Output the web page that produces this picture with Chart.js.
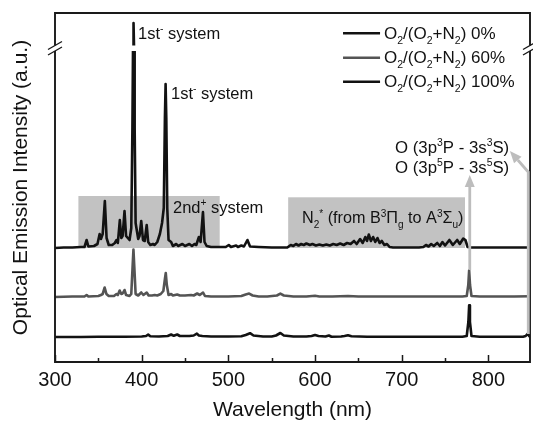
<!DOCTYPE html>
<html><head><meta charset="utf-8">
<script src="https://cdn.jsdelivr.net/npm/chart.js@4.4.1/dist/chart.umd.min.js"></script>
<style>html,body{margin:0;padding:0;background:#fff;}#wrap{width:533px;height:423px;}</style>
</head><body><div id="wrap"><canvas id="c" width="533" height="423"></canvas></div>
<script>
// ---- data (wavelength nm, relative intensity a.u.) ----
const seriesNames = ['O2/(O2+N2) 0%', 'O2/(O2+N2) 60%', 'O2/(O2+N2) 100%'];
const offsets = [114, 65, 25];
const xTickValues = [300, 400, 500, 600, 700, 800];
const trace0 = [[300,0],[310,0.5],[320,0.5],[330,1],[334,1],[336.5,8],[338.5,1.5],[345,2],[349,4],[351.5,14],[353,9],[355,14],[357.5,47],[359.5,10],[362,3],[366,3],[369,5],[371,8],[372.5,5],[374.8,28],[376.5,10],[378,12],[380.2,37],[382,12],[384,10],[386,8],[388,20],[389.3,120],[390,200],[390.6,225],[391.2,200],[391.9,120],[393,25],[396,9],[397.5,12],[399.5,27],[401.5,8],[403.5,7],[405.8,23],[407.5,6],[410,3],[413,4],[415,3],[418,6],[421,14],[423.5,25],[425.5,40],[426.8,130],[427.6,164],[428.4,130],[429.5,40],[431,8],[434,6],[436,2],[440,4],[442,2],[447,4],[450,2],[455,4],[458,2],[461,4],[463,3],[466,11],[468,6],[470.7,36],[472.5,6],[475,2],[480,1],[490,1],[497,1],[500.5,3],[503,1],[509,2.5],[511,1],[515,2.5],[518,1.5],[522,8],[525,1.5],[535,1],[550,0.5],[565,0.5],[568,0.5],[572,3],[575,2],[578,4],[581,2.5],[584,4],[587,3],[590,4.5],[594,3],[597,4],[601,2.5],[605,3.5],[609,2.5],[613,3.5],[617,2.5],[621,4],[625,3],[629,4.5],[633,3],[637,5],[641,4],[645,7],[648,4],[652,9],[655,5],[658,11],[660,7],[662,13.5],[664.5,7],[667,11],[669.5,6],[672,10],[674.5,5],[677,7],[680,3],[683,4],[686,1],[690,0.5],[700,0.5],[712,0.5],[720,0.5],[725,1],[728,3],[731,1.5],[734,4],[737,2],[741,5],[744,2],[747,6],[750,2.5],[755,8],[759,3],[764,8],[767,4],[771,9.5],[773.5,8],[776,1],[780,0.5],[790,0.5],[800,0.5],[820,0.5],[835,0.5],[848,0.5]];
const trace60 = [[300,0],[320,0.5],[334,0.5],[336.5,2],[338.5,0.5],[350,1],[353,2],[355,3],[357.3,9.5],[359.3,3],[362,1],[368,1],[371,3],[372.5,2],[374.6,6.5],[376.5,3],[378,3.5],[380.2,7],[382,2],[386,1],[388,3],[389.5,30],[390.5,47.5],[391.5,30],[393,3],[396,1.5],[399.5,4.5],[402,2],[405.8,4.5],[408,1.5],[412,1.5],[415,2],[418,1.5],[422,3],[425,6],[426.8,18],[427.8,24],[429,12],[431,2],[434,3],[436,1.5],[441,2.5],[444,1.5],[450,1.5],[457,2],[460,1.5],[464,3.5],[467,2],[470.8,4.5],[473,1],[480,0.5],[500,0.5],[515,1],[520,2.5],[524,3.4],[528,1.5],[535,0.5],[545,0.5],[556,1.5],[560,3.4],[564,1.5],[575,0.5],[590,0.5],[600,1.2],[605,0.5],[620,0.5],[638,1],[650,0.5],[700,0.5],[750,0.5],[770,0.5],[775,1],[776.8,12],[777.8,26.7],[778.8,12],[780.5,1],[790,0.5],[810,0.5],[830,0.5],[848,0.8]];
const trace100 = [[300,0],[330,0],[350,0.3],[380,0.3],[400,0.5],[405,1],[407.5,2.4],[410,0.8],[420,0.5],[430,1],[434,2.5],[437,1.2],[441,2.5],[444,1],[455,1],[460,1.5],[463.7,3.4],[466,1.5],[470,1],[480,0.5],[500,0.5],[515,0.8],[520,2],[525,3.8],[529,1.5],[540,0.5],[550,0.5],[555,1.5],[560,4],[564,1.5],[575,0.5],[590,0.5],[596,1],[600,2],[604,1],[612,0.5],[616,1.5],[619,0.3],[630,0.5],[634,1],[638,1.8],[642,0.8],[660,0.3],[700,0.3],[740,0.3],[770,0.3],[775,1],[776.9,15],[777.8,31.7],[778.7,15],[780.5,1],[790,0.3],[820,0.3],[840,0.3],[843,1],[845,3],[847,1],[848,0.5]];
const bandRegions = [[327, 490, 114, 166], [569, 773, 114, 164.7]]; // [x0,x1,y0,y1]
const arrowPaths = [[[778.5,92],[778.5,187]], [[846,28],[846,190],[824.8,211]]];

// ---- styles ----
const FAM = '"Liberation Sans", Arial, sans-serif';
const colors = ['#121212', '#545454', '#121212'];

function drawRich(ctx, x, y, segs, size){
  let cx = x;
  segs.forEach(([t,k])=>{
    const s = k ? size*0.62 : size;
    ctx.font = s + 'px ' + FAM;
    const dy = k===1 ? size*0.28 : (k===2 ? -size*0.4 : 0);
    ctx.fillText(t, cx, y+dy);
    cx += ctx.measureText(t).width;
  });
}
const legendSegs = (pct)=>[['O',0],['2',1],['/(O',0],['2',1],['+N',0],['2',1],[') '+pct,0]];
const labels = [
  {x:395.8, y:323, size:16.5, segs:[['1st',0],['-',2],[' system',0]]},
  {x:433.8, y:263, size:16.5, segs:[['1st',0],['-',2],[' system',0]]},
  {x:436.1, y:149, size:16.5, segs:[['2nd',0],['+',2],[' system',0]]},
  {x:585, y:139, size:16.2, segs:[['N',0],['2',1],['*',2],[' (from B',0],['3',2],['\u03A0',0],['g',1],[' to A',0],['3',2],['\u03A3',0],['u',1],[')',0]]},
  {x:692.3, y:209, size:16.8, segs:[['O (3p',0],['3',2],['P - 3s',0],['3',2],['S)',0]]},
  {x:692.3, y:189, size:16.8, segs:[['O (3p',0],['5',2],['P - 3s',0],['5',2],['S)',0]]}
];
const legendPos = {x0:632.3, x1:675, tx:679.6, ys:[328.7,304.3,280.3]};

const deco = {
  id:'deco',
  beforeDatasetsDraw(chart){
    const {ctx, scales:{x,y}} = chart;
    ctx.save();
    ctx.fillStyle = '#c2c2c2';
    bandRegions.forEach(([a,b,c,d])=>{
      const px0=x.getPixelForValue(a), px1=x.getPixelForValue(b), py0=y.getPixelForValue(c), py1=y.getPixelForValue(d);
      ctx.fillRect(px0, py1, px1-px0, py0-py1);
    });
    ctx.restore();
  },
  afterDatasetsDraw(chart){
    const {ctx, chartArea:a, scales:{x,y}} = chart;
    ctx.save();
    // axis break band
    ctx.fillStyle = '#fff';
    ctx.fillRect(a.left-2, 45.5, a.right-a.left+4, 5.5);
    // frame
    ctx.strokeStyle = '#1a1a1a'; ctx.lineWidth = 1.9;
    ctx.beginPath();
    ctx.moveTo(a.left, 45.5); ctx.lineTo(a.left, a.top); ctx.lineTo(a.right, a.top); ctx.lineTo(a.right, 45.5);
    ctx.moveTo(a.left, 51); ctx.lineTo(a.left, a.bottom); ctx.lineTo(a.right, a.bottom); ctx.lineTo(a.right, 51);
    ctx.stroke();
    // break slashes
    ctx.lineWidth = 1.4;
    ctx.beginPath();
    [[a.left,45.5],[a.left,51],[a.right,45.5],[a.right,51]].forEach(([bx,by])=>{
      ctx.moveTo(bx-7, by+4); ctx.lineTo(bx+7, by-4);
    });
    ctx.stroke();
    // inward ticks
    ctx.lineWidth = 1.5;
    ctx.beginPath();
    for(let v=300; v<=848; v+=50){
      const px = Math.round(x.getPixelForValue(v))+0.5;
      const len = (v%100===0) ? 7 : 4;
      ctx.moveTo(px, a.bottom); ctx.lineTo(px, a.bottom-len);
    }
    ctx.stroke();
    // arrows
    ctx.strokeStyle = '#bdbdbd'; ctx.fillStyle = '#bdbdbd'; ctx.lineWidth = 2.8;
    arrowPaths.forEach(path=>{
      const pts = path.map(([u,v])=>[x.getPixelForValue(u), y.getPixelForValue(v)]);
      const n = pts.length;
      const [ex,ey] = pts[n-1], [sx,sy] = pts[n-2];
      const ang = Math.atan2(ey-sy, ex-sx);
      const L = 12, W = 5;
      const bx = ex - L*Math.cos(ang), by = ey - L*Math.sin(ang);
      ctx.beginPath();
      ctx.moveTo(pts[0][0], pts[0][1]);
      for(let i=1;i<n-1;i++) ctx.lineTo(pts[i][0], pts[i][1]);
      ctx.lineTo(bx, by);
      ctx.stroke();
      ctx.beginPath();
      ctx.moveTo(ex, ey);
      ctx.lineTo(bx + W*Math.sin(ang), by - W*Math.cos(ang));
      ctx.lineTo(bx - W*Math.sin(ang), by + W*Math.cos(ang));
      ctx.closePath(); ctx.fill();
    });
    // text labels
    ctx.fillStyle = '#121212'; ctx.textBaseline = 'alphabetic'; ctx.textAlign = 'left';
    labels.forEach(l=> drawRich(ctx, x.getPixelForValue(l.x), y.getPixelForValue(l.y), l.segs, l.size));
    // legend
    const pcts = seriesNames.map(s=>s.split(' ').pop());
    legendPos.ys.forEach((ly,i)=>{
      const py = y.getPixelForValue(ly);
      ctx.strokeStyle = colors[i]; ctx.lineWidth = 2.6;
      ctx.beginPath(); ctx.moveTo(x.getPixelForValue(legendPos.x0), py); ctx.lineTo(x.getPixelForValue(legendPos.x1), py); ctx.stroke();
      ctx.fillStyle = '#121212';
      drawRich(ctx, x.getPixelForValue(legendPos.tx), py+5.5, legendSegs(pcts[i]), 17);
    });
    ctx.restore();
  }
};

const traces = [trace0, trace60, trace100];
const datasets = traces.map((t,i)=>({
  label: seriesNames[i],
  data: t.map(([w,h])=>({x:w, y:h+offsets[i]})),
  borderColor: colors[i], borderWidth: 2.6, pointRadius: 0, fill: false, tension: 0,
  borderJoinStyle: 'round', borderCapStyle: 'round'
}));

new Chart(document.getElementById('c'), {
  type: 'line',
  data: { datasets },
  options: {
    responsive: false, animation: false, devicePixelRatio: 1,
    layout: { padding: { top: 13, right: 3, left: 0, bottom: 0 } },
    plugins: { legend: { display: false }, tooltip: { enabled: false } },
    scales: {
      x: {
        type: 'linear', min: 300, max: 848,
        afterBuildTicks: (s)=>{ s.ticks = xTickValues.map(v=>({value:v})); },
        afterFit: (s)=>{ s.height = 61; },
        grid: { display: false, drawTicks: false },
        border: { display: false },
        ticks: { color: '#121212', font: { family: FAM, size: 20 }, padding: 6, maxRotation: 0, autoSkip: false },
        title: { display: true, text: 'Wavelength (nm)', color: '#121212', font: { family: FAM, size: 21 }, padding: { top: 0, bottom: 0 } }
      },
      y: {
        min: 0, max: 349,
        afterFit: (s)=>{ s.width = 55; },
        grid: { display: false, drawTicks: false },
        border: { display: false },
        ticks: { display: false },
        title: { display: true, text: 'Optical Emission Intensity (a.u.)', color: '#121212', font: { family: FAM, size: 21 }, padding: { top: 9, bottom: 0 } }
      }
    }
  },
  plugins: [deco]
});
</script></body></html>
